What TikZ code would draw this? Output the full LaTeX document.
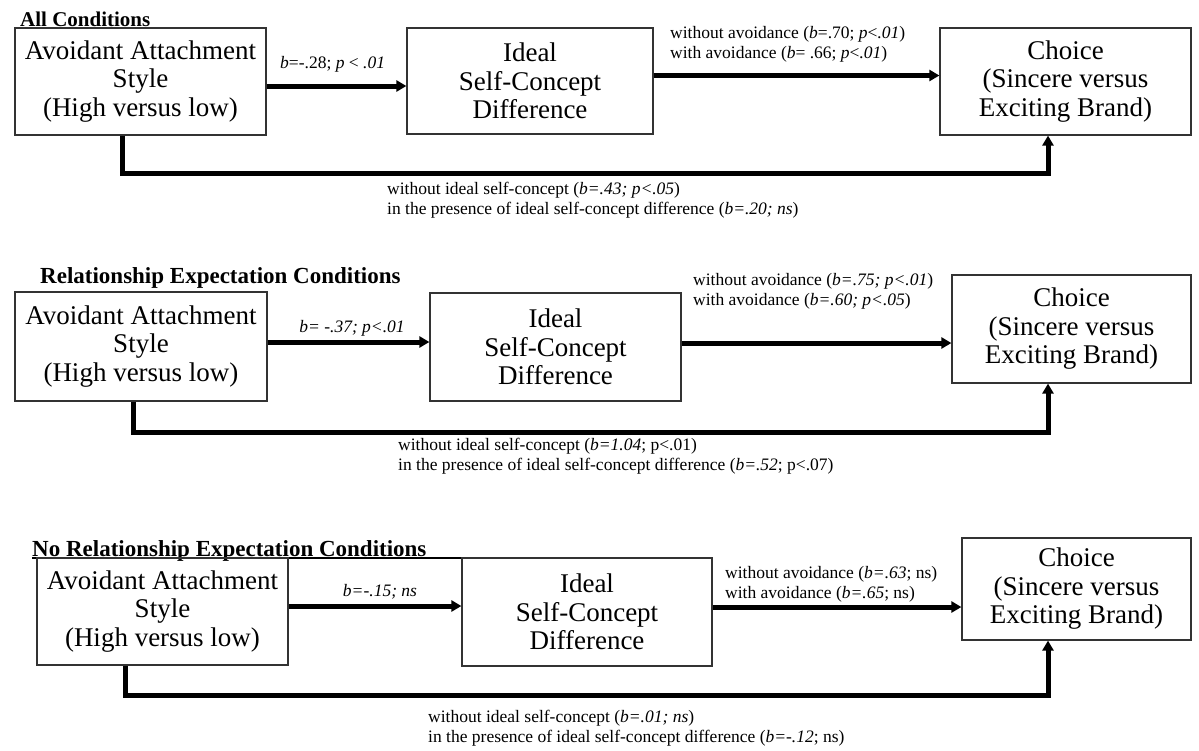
\documentclass[tikz,border=0pt]{standalone}
\usepackage{fontspec}
\setmainfont{Liberation Serif}
\usetikzlibrary{arrows.meta}
\tikzset{
 box/.style={draw=black!80, line width=1.2pt, align=center, inner sep=0pt, font=\fontsize{27}{28.5}\selectfont},
 arr/.style={line width=5pt, line join=miter, -{Triangle[length=10pt,width=11pt]}},
 lbl/.style={align=left, inner sep=0pt, anchor=west, font=\fontsize{17.5}{20}\selectfont},
 ttl/.style={inner sep=0pt, anchor=base west, font=\fontsize{23}{25}\selectfont\bfseries},
}
\begin{document}
\begin{tikzpicture}[x=1pt,y=-1pt]
\useasboundingbox (0,0) rectangle (1199,750);
% ---------- Panel 1 ----------
\node[ttl, font=\fontsize{21}{23}\selectfont\bfseries] (t1) at (20,26) {All Conditions};
\node[box, minimum width=251pt, minimum height=107pt] (A1) at (140.5,81.5) {Avoidant Attachment\\Style\\(High versus low)};
\node[box, minimum width=246pt, minimum height=106pt] (B1) at (530,81) {Ideal\\Self-Concept\\Difference};
\node[box, minimum width=251pt, minimum height=107pt] (C1) at (1065.5,81.5) {Choice\\(Sincere versus\\Exciting Brand)};
\draw[arr] ([yshift=-4.5pt]A1.east) -- ([yshift=-4.5pt]A1.east -| B1.west);
\draw[arr] ([yshift=5.5pt]B1.east) -- ([yshift=5.5pt]B1.east -| C1.west);
\coordinate (d1) at (122,173);
\coordinate (e1) at (1048,173);
\draw[arr] (A1.south -| d1) -- (d1) -- (e1) -- (C1.south -| e1);
\node[lbl] (l1a) at (280,64) {\textit{b}=-.28; \textit{p} < \textit{.01}};
\node[lbl] (l1b) at (670,44) {without avoidance (\textit{b}=.70; \textit{p}<\textit{.01})\\with avoidance (\textit{b}= .66; \textit{p}<\textit{.01})};
\node[lbl] (l1c) at (387,200) {without ideal self-concept (\textit{b=.43; p<.05})\\in the presence of ideal self-concept difference (\textit{b=.20; ns})};
% ---------- Panel 2 ----------
\node[ttl] (t2) at (40,283) {Relationship Expectation Conditions};
\node[box, minimum width=252pt, minimum height=109pt] (A2) at (141,346.5) {Avoidant Attachment\\Style\\(High versus low)};
\node[box, minimum width=251pt, minimum height=108pt] (B2) at (555.5,347) {Ideal\\Self-Concept\\Difference};
\node[box, minimum width=239pt, minimum height=108pt] (C2) at (1071.5,329) {Choice\\(Sincere versus\\Exciting Brand)};
\draw[arr] ([yshift=4.5pt]A2.east) -- ([yshift=4.5pt]A2.east -| B2.west);
\draw[arr] ([yshift=4pt]B2.east) -- ([yshift=4pt]B2.east -| C2.west);
\coordinate (d2) at (133,432);
\coordinate (e2) at (1048,432);
\draw[arr] (A2.south -| d2) -- (d2) -- (e2) -- (C2.south -| e2);
\node[lbl, anchor=center] (l2a) at (352,328) {\textit{b= -.37; p<.01}};
\node[lbl] (l2b) at (693,291) {without avoidance (\textit{b=.75; p<.01})\\with avoidance (\textit{b=.60; p<.05})};
\node[lbl] (l2c) at (398,456) {without ideal self-concept (\textit{b=1.04}; p<.01)\\in the presence of ideal self-concept difference (\textit{b=.52}; p<.07)};
% ---------- Panel 3 ----------
\node[ttl] (t3) at (32,556) {No Relationship Expectation Conditions};
\coordinate (u3) at (463,558);
\draw[line width=1.2pt] ([yshift=-2pt]t3.base west) -- ([yshift=-2pt]t3.base west -| u3);
\node[box, minimum width=251pt, minimum height=107pt] (A3) at (162.5,611.5) {Avoidant Attachment\\Style\\(High versus low)};
\node[box, minimum width=250pt, minimum height=108pt] (B3) at (587,612) {Ideal\\Self-Concept\\Difference};
\node[box, minimum width=229pt, minimum height=102pt] (C3) at (1076.5,589) {Choice\\(Sincere versus\\Exciting Brand)};
\draw[arr] ([yshift=5.5pt]A3.east) -- ([yshift=5.5pt]A3.east -| B3.west);
\draw[arr] ([yshift=5pt]B3.east) -- ([yshift=5pt]B3.east -| C3.west);
\coordinate (d3) at (125,695);
\coordinate (e3) at (1048,695);
\draw[arr] (A3.south -| d3) -- (d3) -- (e3) -- (C3.south -| e3);
\node[lbl, anchor=center] (l3a) at (380,592) {\textit{b=-.15; ns}};
\node[lbl] (l3b) at (725,584.5) {without avoidance (\textit{b=.63}; ns)\\with avoidance (\textit{b=.65}; ns)};
\node[lbl] (l3c) at (428,728) {without ideal self-concept (\textit{b=.01; ns})\\in the presence of ideal self-concept difference (\textit{b=-.12}; ns)};
\end{tikzpicture}
\end{document}
